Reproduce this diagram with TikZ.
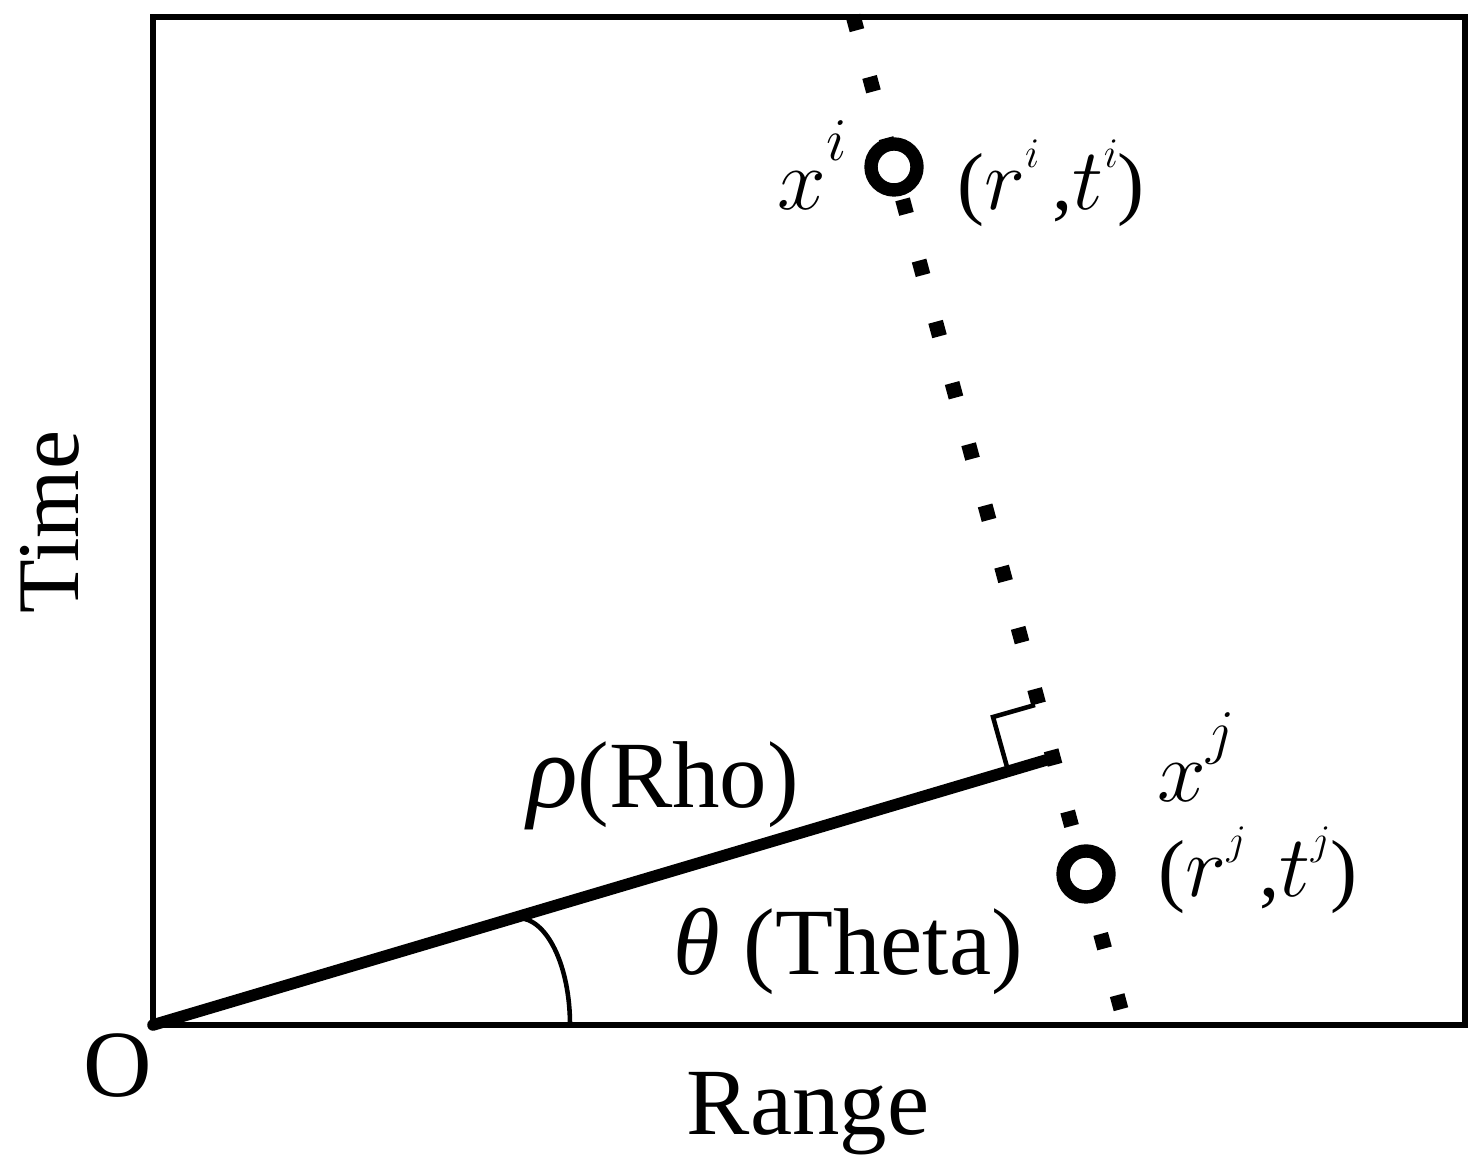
\documentclass[tikz,border=0pt]{standalone}
\usepackage{fontspec}
\setmainfont{Liberation Serif}
\newcommand{\supx}[1]{\raisebox{14pt}{\fontsize{17}{17}\selectfont$#1$}}
\newcommand{\supr}[1]{\raisebox{12pt}{\fontsize{13}{13}\selectfont$#1$}}

\begin{document}
\begin{tikzpicture}[x=0.1mm, y=0.1mm,
    frame/.style={line width=1.5pt},
    thin/.style={line width=1.3pt},
    lbl/.style={inner sep=0pt, anchor=base, font=\fontsize{27}{30}\selectfont},
    xlbl/.style={inner sep=0pt, anchor=base, font=\fontsize{32}{34}\selectfont},
    pointlbl/.style={inner sep=0pt, anchor=base, font=\fontsize{23}{26}\selectfont},
    sample/.style={line width=3.8pt, fill=white}]
        \useasboundingbox (0,0) rectangle (1477,1169);

        \coordinate (O) at (153,144);
        \coordinate (NE) at (1465,1152);
        \coordinate (rhoend) at (1053,411);
        \coordinate (dtop) at (853.05,1153.24);
        \coordinate (dbot) at (1120.95,159.76);
        \coordinate (pi) at (894,1002);
        \coordinate (pj) at (1086,295);

        % axes box
        \draw[frame] (O) rectangle (NE);

        % line through the two samples
        \draw[line width=1.5mm, dash pattern=on 1.5mm off 4.84mm] (dtop) -- (dbot);

        % rho and theta
        \draw[line width=3.3pt, line cap=round] (O) -- (rhoend);
        \draw[thin] (518,251) .. controls (547,251) and (570,203) .. (570,144);
        \draw[thin] (1007,402) -- (993,452) -- (1035,464);

        \draw[sample] (pi) circle[radius=23];
        \draw[sample] (pj) circle[radius=23];

        \node[lbl] (rholbl) at (663,361) {{\fontsize{30}{30}\selectfont\textit{ρ}}(Rho)};
        \node[lbl] (thetalbl) at (848,194) {\textit{θ} (Theta)};
        \node[lbl] (rangelbl) at (808,34) {Range};
        \node[lbl] (olbl) at (118,72) {O};
        \node[lbl, rotate=90, font=\fontsize{25}{28}\selectfont] (timelbl) at (78,647) {Time};

        \node[xlbl] (xilbl) at (812,959) {$x$\supx{i}};
        \node[pointlbl] (rilbl) at (1051,959) {($r$\supr{i}\,,$t$\supr{i})};
        \node[xlbl] (xjlbl) at (1196,367) {$x$\supx{j}};
        \node[pointlbl] (rjlbl) at (1258,272) {($r$\supr{j}\,,$t$\supr{j})};
    \end{tikzpicture}
\end{document}
